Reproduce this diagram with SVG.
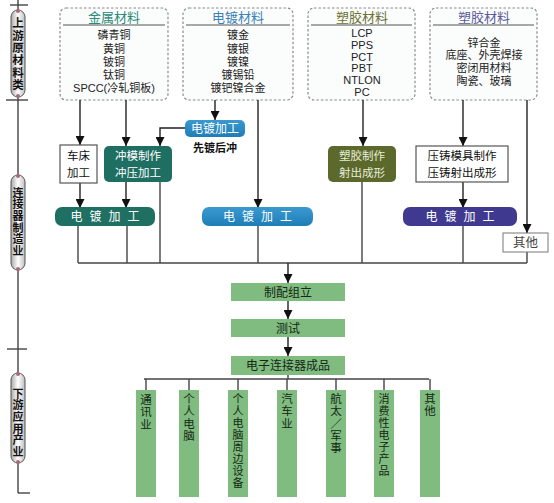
<svg xmlns="http://www.w3.org/2000/svg" width="554" height="503" viewBox="0 0 554 503">
<defs>
<marker id="ah" viewBox="0 0 10 10" refX="10" refY="5" markerWidth="9" markerHeight="9" markerUnits="userSpaceOnUse" orient="auto"><path d="M0,0 L10,5 L0,10 z" fill="#111"/></marker>
<linearGradient id="cap" x1="0" y1="0" x2="1" y2="0"><stop offset="0" stop-color="#a9a9a9"/><stop offset="0.5" stop-color="#ffffff"/><stop offset="1" stop-color="#bdbdbd"/></linearGradient>
<linearGradient id="gblue" x1="0" y1="0" x2="0" y2="1"><stop offset="0" stop-color="#3a9ad0"/><stop offset="1" stop-color="#1f7db5"/></linearGradient>
<style>
text{font-family:"Liberation Sans","Noto Sans CJK SC",sans-serif;}
.t{font-family:"Noto Sans CJK SC",sans-serif;}
.box{fill:#fbfcfc;stroke:#8a8a8a;stroke-width:1.2;stroke-dasharray:2.5 2;}
.sep{stroke:#555;stroke-width:1.2;}
.title{font-size:13px;text-anchor:middle;}
.item{font-size:11px;text-anchor:middle;fill:#222;}
.c{fill:none;stroke:#444;stroke-width:1.4;}
.a{fill:none;stroke:#222;stroke-width:1.4;marker-end:url(#ah);}
.band{font-size:12px;fill:#fff;text-anchor:middle;letter-spacing:7px;}
.wt{font-size:11.5px;fill:#fff;text-anchor:middle;}
.bt{font-size:11.5px;fill:#111;text-anchor:middle;}
.g{fill:#80bb80;}
.gt{font-size:12px;fill:#142814;text-anchor:middle;}
.v{font-family:"Noto Sans CJK SC",sans-serif;writing-mode:vertical-rl;text-orientation:upright;}
.vt{font-size:11.5px;fill:#142814;letter-spacing:0.8px;}
.vs{font-size:11px;fill:#142814;letter-spacing:1px;}
.cap{fill:url(#cap);stroke:#555;stroke-width:1;}
.capt{font-size:11.5px;font-weight:bold;fill:#111;letter-spacing:0.9px;}
.capt2{font-size:11px;font-weight:bold;fill:#111;letter-spacing:0.7px;}
.dot{fill:#a86a78;}
</style>
</defs>
<rect width="554" height="503" fill="#ffffff"/>

<g id="sidebar">
<line x1="18" y1="0" x2="18" y2="493" stroke="#444" stroke-width="1.4"/>
<line x1="10" y1="5" x2="28" y2="5" stroke="#444" stroke-width="1.4"/>
<line x1="6" y1="100" x2="28" y2="100" stroke="#444" stroke-width="1.4"/>
<line x1="7" y1="349" x2="27" y2="349" stroke="#444" stroke-width="1.4"/>
<line x1="18" y1="493" x2="30" y2="493" stroke="#444" stroke-width="1.4"/>
<rect class="cap" x="11" y="10" width="14" height="87" rx="7"/>
<circle class="dot" cx="18" cy="11" r="2"/><circle class="dot" cx="18" cy="96" r="2"/>
<text class="v capt" x="18" y="17">上游原材料类</text>
<rect class="cap" x="11" y="175" width="14" height="95" rx="7"/>
<circle class="dot" cx="18" cy="176" r="2"/><circle class="dot" cx="18" cy="269" r="2"/>
<text class="v capt2" x="18" y="187">连接器制造业</text>
<rect class="cap" x="11" y="373" width="14" height="90" rx="7"/>
<circle class="dot" cx="18" cy="374" r="2"/><circle class="dot" cx="18" cy="462" r="2"/>
<text class="v capt2" x="18" y="388">下游应用产业</text>
</g>

<g id="metal">
<rect class="box" x="60" y="8" width="108" height="92" rx="6"/>
<line class="sep" x1="63" y1="25" x2="165" y2="25"/>
<text class="title t" x="114" y="22" fill="#2a8a78">金属材料</text>
<text class="item" x="114" y="39">磷青铜</text>
<text class="item" x="114" y="53">黄铜</text>
<text class="item" x="114" y="66">铍铜</text>
<text class="item" x="114" y="79">钛铜</text>
<text class="item" x="114" y="92">SPCC(冷轧铜板)</text>
</g>

<g id="plating">
<rect class="box" x="183" y="8" width="110" height="92" rx="6"/>
<line class="sep" x1="186" y1="25" x2="290" y2="25"/>
<text class="title t" x="238" y="22" fill="#3a80b8">电镀材料</text>
<text class="item" x="238" y="39">镀金</text>
<text class="item" x="238" y="53">镀银</text>
<text class="item" x="238" y="66">镀镍</text>
<text class="item" x="238" y="79">镀锡铅</text>
<text class="item" x="238" y="92">镀钯镍合金</text>
</g>

<g id="plastic1">
<rect class="box" x="308" y="8" width="107" height="92" rx="6"/>
<line class="sep" x1="311" y1="25" x2="412" y2="25"/>
<text class="title t" x="362" y="22" fill="#6a7030">塑胶材料</text>
<text class="item" x="362" y="37">LCP</text>
<text class="item" x="362" y="49">PPS</text>
<text class="item" x="362" y="61">PCT</text>
<text class="item" x="362" y="72">PBT</text>
<text class="item" x="362" y="84">NTLON</text>
<text class="item" x="362" y="96">PC</text>
</g>

<g id="plastic2">
<rect class="box" x="430" y="8" width="107" height="92" rx="6"/>
<line class="sep" x1="433" y1="25" x2="534" y2="25"/>
<text class="title t" x="484" y="22" fill="#5a5a9a">塑胶材料</text>
<text class="item" x="484" y="47">锌合金</text>
<text class="item" x="484" y="59">底座、外壳焊接</text>
<text class="item" x="484" y="72">密闭用材料</text>
<text class="item" x="484" y="85">陶瓷、玻璃</text>
</g>

<g id="connectors">
<line class="a" x1="80" y1="100" x2="80" y2="145"/>
<line class="a" x1="126" y1="100" x2="126" y2="146"/>
<line class="a" x1="215" y1="100" x2="215" y2="120"/>
<polyline class="a" points="186,128 160,128 160,146"/>
<line class="a" x1="258" y1="100" x2="258" y2="208"/>
<line class="a" x1="363" y1="100" x2="363" y2="146"/>
<line class="a" x1="463" y1="100" x2="463" y2="146"/>
<line class="a" x1="527" y1="100" x2="527" y2="233"/>
<line class="a" x1="80" y1="183" x2="80" y2="208"/>
<line class="a" x1="126" y1="182" x2="126" y2="208"/>
<line class="a" x1="463" y1="182" x2="463" y2="208"/>
<line class="c" x1="78" y1="226" x2="78" y2="263"/>
<line class="c" x1="127" y1="226" x2="127" y2="263"/>
<line class="c" x1="160" y1="182" x2="160" y2="263"/>
<line class="c" x1="258" y1="226" x2="258" y2="263"/>
<line class="c" x1="362" y1="182" x2="362" y2="263"/>
<line class="c" x1="463" y1="226" x2="463" y2="263"/>
<line class="c" x1="527" y1="252" x2="527" y2="263"/>
<line class="c" x1="78" y1="263" x2="527" y2="263"/>
<line class="a" x1="288" y1="263" x2="288" y2="283"/>
<line class="a" x1="288" y1="301" x2="288" y2="319"/>
<line class="a" x1="288" y1="337" x2="288" y2="356"/>
<line class="c" x1="288" y1="375" x2="288" y2="379"/>
<line class="c" x1="144" y1="379" x2="429" y2="379"/>
<line class="c" x1="146" y1="379" x2="146" y2="390"/>
<line class="c" x1="189" y1="379" x2="189" y2="390"/>
<line class="c" x1="238" y1="379" x2="238" y2="390"/>
<line class="c" x1="287" y1="379" x2="287" y2="390"/>
<line class="c" x1="336" y1="379" x2="336" y2="390"/>
<line class="c" x1="384" y1="379" x2="384" y2="390"/>
<line class="c" x1="430" y1="379" x2="430" y2="390"/>
</g>

<g id="lathe">
<rect x="60" y="145" width="37" height="38" fill="#fff" stroke="#555" stroke-width="1.2"/>
<text class="bt t" x="78.5" y="159.5">车床</text>
<text class="bt t" x="78.5" y="176.5">加工</text>
</g>

<g id="stamping">
<rect x="104" y="146" width="68" height="36" rx="5" fill="#1e6e62"/>
<text class="wt t" x="138" y="159.5">冲模制作</text>
<text class="wt t" x="138" y="176.5">冲压加工</text>
</g>

<g id="preplate">
<rect x="185" y="120" width="60" height="17" rx="5" fill="url(#gblue)"/>
<text class="t" x="215" y="133" font-size="12" fill="#fff" text-anchor="middle">电镀加工</text>
<text class="t" x="215" y="152" font-size="11" font-weight="bold" fill="#111" text-anchor="middle">先镀后冲</text>
</g>

<g id="molding">
<rect x="328" y="146" width="68" height="36" rx="5" fill="#5b6a2c"/>
<text class="t" x="362" y="159.5" font-size="11.5" fill="#e8ecd8" text-anchor="middle">塑胶制作</text>
<text class="t" x="362" y="176.5" font-size="11.5" fill="#e8ecd8" text-anchor="middle">射出成形</text>
</g>

<g id="diecast">
<rect x="416" y="146" width="92" height="36" fill="#fff" stroke="#555" stroke-width="1.2"/>
<text class="bt t" x="462" y="159.5">压铸模具制作</text>
<text class="bt t" x="462" y="176.5">压铸射出成形</text>
</g>

<g id="plate1">
<rect x="55" y="207" width="100" height="19" rx="7" fill="#1f6f62"/>
<text class="band t" x="108.5" y="221">电镀加工</text>
</g>

<g id="plate2">
<rect x="202" y="207" width="111" height="19" rx="7" fill="url(#gblue)"/>
<text class="band t" x="261" y="221">电镀加工</text>
</g>

<g id="plate3">
<rect x="403" y="207" width="114" height="19" rx="7" fill="#3f3a8f"/>
<text class="band t" x="463.5" y="221">电镀加工</text>
</g>

<g id="other1">
<rect x="503" y="233" width="45" height="19" fill="#fff" stroke="#777" stroke-width="1"/>
<text class="t" x="525.5" y="247" font-size="12.5" fill="#444" text-anchor="middle">其他</text>
</g>

<g id="assembly">
<rect class="g" x="231" y="283" width="114" height="18"/>
<text class="gt t" x="288" y="297">制配组立</text>
</g>
<g id="test">
<rect class="g" x="231" y="319" width="114" height="18"/>
<text class="gt t" x="288" y="333">测试</text>
</g>
<g id="product">
<rect class="g" x="231" y="356" width="114" height="19"/>
<text class="gt t" x="288" y="370">电子连接器成品</text>
</g>

<g id="telecom">
<rect class="g" x="136" y="390" width="20" height="107"/>
<text class="v vt" x="146" y="394">通讯业</text>
</g>
<g id="pc">
<rect class="g" x="179" y="390" width="20" height="107"/>
<text class="v vt" x="189" y="393">个人电脑</text>
</g>
<g id="peripheral">
<rect class="g" x="228" y="390" width="20" height="107"/>
<text class="v vs" x="238" y="393">个人电脑周边设备</text>
</g>
<g id="auto">
<rect class="g" x="277" y="390" width="20" height="107"/>
<text class="v vt" x="287" y="393">汽车业</text>
</g>
<g id="aero">
<rect class="g" x="326" y="390" width="20" height="107"/>
<text class="v vt" x="336" y="393">航太／军事</text>
</g>
<g id="consumer">
<rect class="g" x="374" y="390" width="20" height="107"/>
<text class="v vs" x="384" y="393">消费性电子产品</text>
</g>
<g id="other2">
<rect class="g" x="420" y="390" width="20" height="107"/>
<text class="v vt" x="430" y="393">其他</text>
</g>
</svg>
